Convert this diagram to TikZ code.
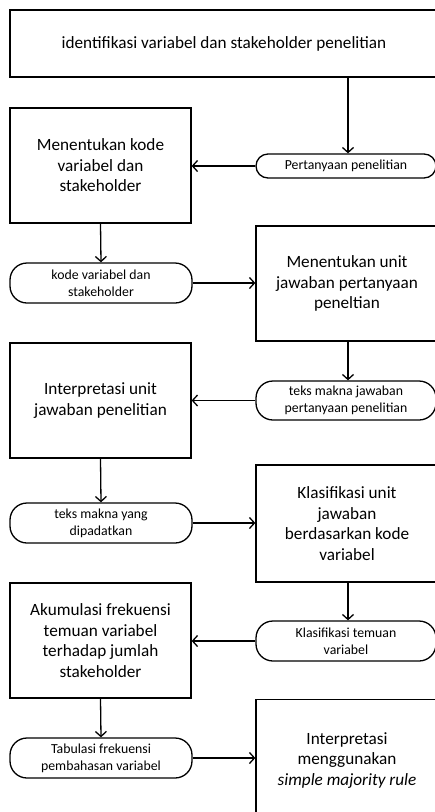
\documentclass[tikz,border=0pt]{standalone}
\usepackage{fontspec}
\setmainfont{Carlito}
\usetikzlibrary{arrows.meta}
\begin{document}
\begin{tikzpicture}[x=1pt,y=-1pt,
  box/.style={draw,line width=1.3pt,align=center,inner sep=0pt,
    font=\fontsize{17.2}{20.5}\selectfont},
  pill/.style={draw,line width=1.3pt,align=center,inner sep=0pt,
    font=\fontsize{13.8}{17.3}\selectfont},
  arr/.style={line width=1.3pt,-{Straight Barb[length=5pt,width=11pt,line width=1.3pt]}}]
\useasboundingbox (0,0) rectangle (435,812);
\clip (0,0) rectangle (435,812);
\fill[white] (0,0) rectangle (435,812);
% boxes
\node[box,minimum width=428,minimum height=67] (top) at (224,43.5) {identifikasi variabel dan stakeholder penelitian};
\node[box,minimum width=181,minimum height=115] (b2) at (100.5,165.5) {Menentukan kode\\variabel dan\\stakeholder};
\node[box,minimum width=182,minimum height=115] (b3) at (347,283.5) {Menentukan unit\\jawaban pertanyaan\\peneltian};
\node[box,minimum width=181,minimum height=115] (b4) at (100.5,400.5) {Interpretasi unit\\jawaban penelitian};
\node[box,minimum width=182,minimum height=117] (b5) at (347,523.5) {Klasifikasi unit\\jawaban\\berdasarkan kode\\variabel};
\node[box,minimum width=181,minimum height=115] (b6) at (100.5,640.5) {Akumulasi frekuensi\\temuan variabel\\terhadap jumlah\\stakeholder};
\node[box,minimum width=182,minimum height=117,anchor=north] (b7) at (347,699) {\\[-4pt]Interpretasi\\menggunakan\\\textit{simple majority rule}};
% pills
\node[pill,rounded corners=12pt,minimum width=180,minimum height=24] (p1) at (346,166) {Pertanyaan penelitian};
\node[pill,rounded corners=17pt,minimum width=182,minimum height=40] (p2) at (101,283) {kode variabel dan\\stakeholder};
\node[pill,rounded corners=17pt,minimum width=180,minimum height=39] (p3) at (346,400.5) {teks makna jawaban\\pertanyaan penelitian};
\node[pill,rounded corners=17pt,minimum width=182,minimum height=40] (p4) at (101,523) {teks makna yang\\dipadatkan};
\node[pill,rounded corners=17pt,minimum width=180,minimum height=40] (p5) at (346,641) {Klasifikasi temuan\\variabel};
\node[pill,rounded corners=17pt,minimum width=182,minimum height=40] (p6) at (101,758) {Tabulasi frekuensi\\pembahasan variabel};
% connectors
\draw[arr] ([xshift=2pt]top.south -| p1.north) -- ([xshift=2pt]p1.north);
\draw[arr] (p1.west) -- (p1.west -| b2.east);
\draw[arr] (b2.south) -- (p2.north);
\draw[arr] (p2.east) -- (p2.east -| b3.west);
\draw[arr] ([xshift=1pt]b3.south) -- ([xshift=1pt]b3.south |- p3.north);
\draw[arr] (p3.west) -- (p3.west -| b4.east);
\draw[arr] (b4.south) -- (p4.north);
\draw[arr] (p4.east) -- (p4.east -| b5.west);
\draw[arr] ([xshift=1pt]b5.south) -- ([xshift=1pt]b5.south |- p5.north);
\draw[arr] (p5.west) -- (p5.west -| b6.east);
\draw[arr] (b6.south) -- (p6.north);
\draw[arr] (p6.east) -- (p6.east -| b7.west);
\end{tikzpicture}
\end{document}
